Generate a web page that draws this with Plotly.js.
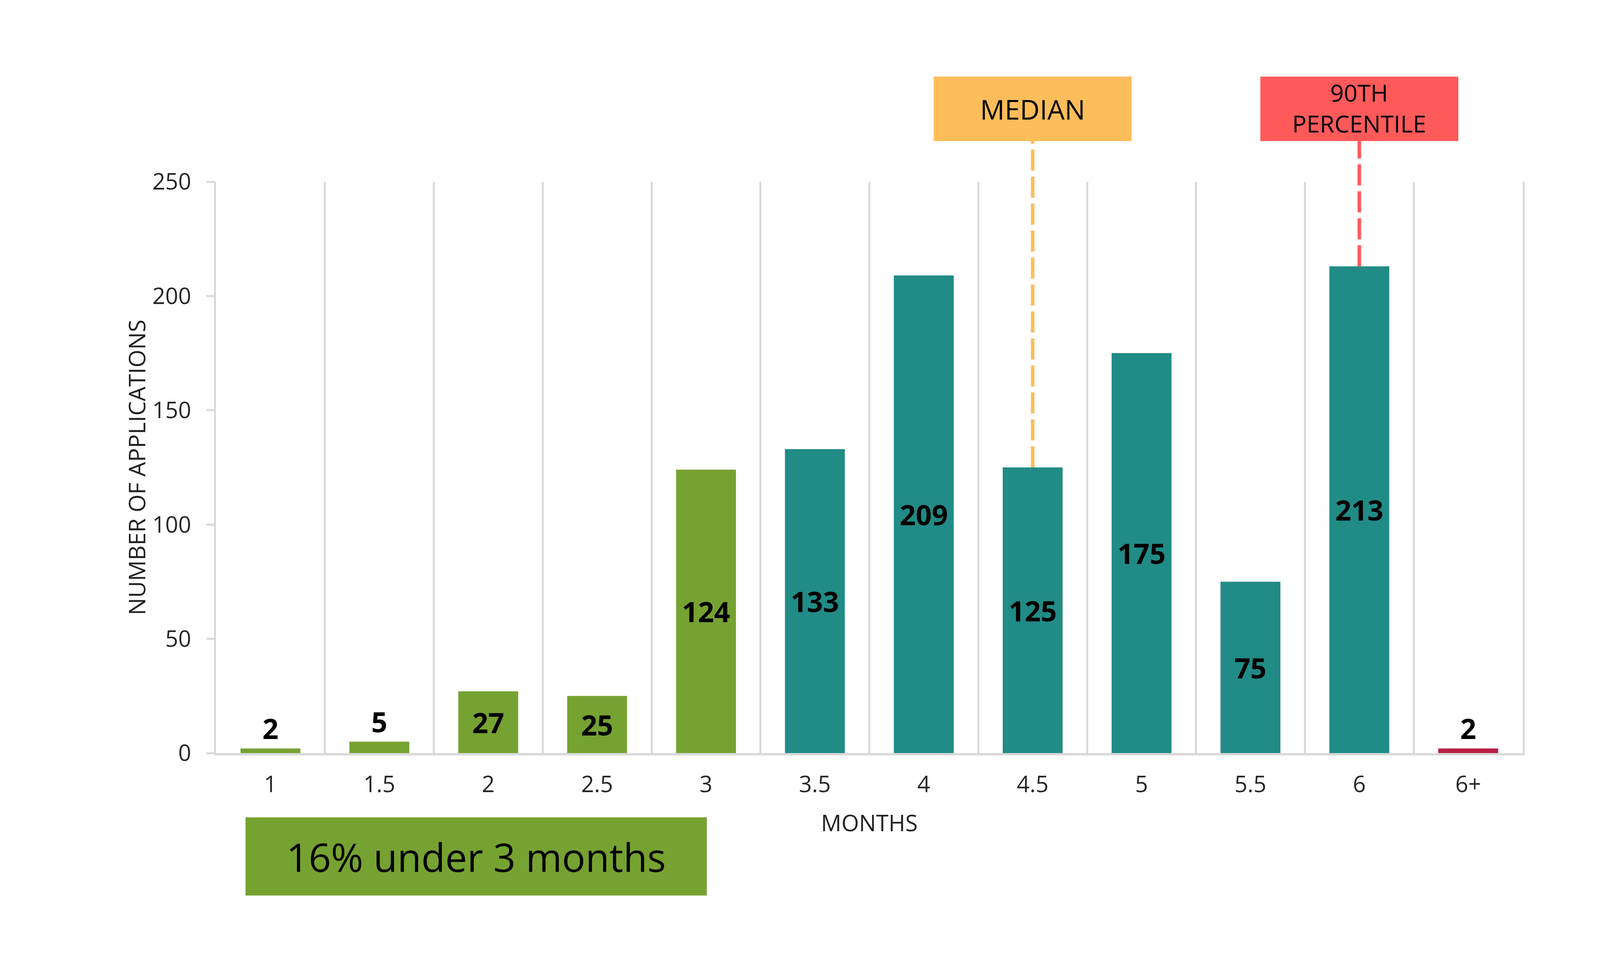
<!DOCTYPE html>
<html>
<head>
<meta charset="utf-8">
<script src="https://cdn.plot.ly/plotly-3.0.1.min.js"></script>
<style>html,body{margin:0;padding:0;background:#fff;overflow:hidden;}</style>
</head>
<body>
<div id="chart"></div>
<script>
// ---- data ----
const months = ['1', '1.5', '2', '2.5', '3', '3.5', '4', '4.5', '5', '5.5', '6', '6+'];
const applications = [2, 5, 27, 25, 124, 133, 209, 125, 175, 75, 213, 2];
const yTicks = [0, 50, 100, 150, 200, 250];
const medianMonth = '4.5';
const p90Month = '6';
const calloutText = '16% under 3 months';

// ---- styles ----
const GREEN = '#76A232', TEAL = '#218B86', CRIMSON = '#B81F45';
const ORANGE = '#FDBD5A', RED = '#FF5A5A', GRID = '#D9D9D9';
const FONT = 'Open Sans';

// fit the design (4500 x 2500) into the real viewport
const W = Math.min(4500, window.innerWidth || 4500);
const H = Math.min(2500, window.innerHeight || 2500);
const sx = W / 4500, sy = H / 2500;
document.getElementById('chart').style.width = W + 'px';
document.getElementById('chart').style.height = H + 'px';

const barColors = months.map(m => m === '6+' ? CRIMSON : (parseFloat(m) <= 3 ? GREEN : TEAL));
const textPos = applications.map(v => v < 20 ? 'outside' : 'inside');

const yMax = 250;
const boxBottom = 1.0711, boxTop = 1.1840, boxMid = (boxBottom + boxTop) / 2;
const iMed = months.indexOf(medianMonth);
const iP90 = months.indexOf(p90Month);
const halfBox = 0.909;

const bars = {
  type: 'bar',
  x: months,
  y: applications,
  marker: {color: barColors, line: {width: 0}},
  texttemplate: '%{y}',
  textposition: textPos,
  insidetextanchor: 'middle',
  textangle: 0,
  constraintext: 'none',
  cliponaxis: false,
  textfont: {family: FONT, size: 72, color: '#000', weight: 700},
  hoverinfo: 'skip',
  showlegend: false
};

const layout = {
  width: W, height: H,
  margin: {l: 607 * sx, r: 217 * sx, t: 465 * sy, b: 573 * sy, pad: 0},
  paper_bgcolor: '#fff', plot_bgcolor: '#fff',
  font: {family: FONT, color: '#222'},
  bargap: 0.45,
  showlegend: false,
  xaxis: {
    type: 'category',
    categoryorder: 'array', categoryarray: months,
    tickson: 'boundaries',
    showgrid: true, gridcolor: GRID, gridwidth: 5,
    ticks: '', ticklabelstandoff: 24,
    showline: true, linecolor: GRID, linewidth: 6,
    zeroline: false,
    tickfont: {family: FONT, size: 58, color: '#262626'},
    title: {text: 'MONTHS', font: {family: FONT, size: 58, color: '#222'}, standoff: 46},
    fixedrange: true
  },
  yaxis: {
    range: [0, yMax],
    tickvals: yTicks,
    ticks: 'outside', ticklen: 20, tickwidth: 5, tickcolor: GRID,
    ticklabelstandoff: 27,
    showgrid: false, zeroline: false,
    showline: true, linecolor: GRID, linewidth: 5, mirror: true,
    tickfont: {family: FONT, size: 58, color: '#262626'},
    title: {text: 'NUMBER OF APPLICATIONS', font: {family: FONT, size: 59, color: '#222'}, standoff: 0},
    fixedrange: true
  },
  shapes: [
    {type: 'line', xref: 'x', yref: 'paper', layer: 'above',
     x0: iMed, x1: iMed, y0: applications[iMed] / yMax, y1: boxBottom,
     line: {color: ORANGE, width: 9, dash: '54px,15px'}},
    {type: 'line', xref: 'x', yref: 'paper', layer: 'above',
     x0: iP90, x1: iP90, y0: applications[iP90] / yMax, y1: boxBottom,
     line: {color: RED, width: 9, dash: '54px,15px'}},
    {type: 'rect', xref: 'x', yref: 'paper', layer: 'above',
     x0: iMed - halfBox, x1: iMed + halfBox, y0: boxBottom, y1: boxTop,
     fillcolor: ORANGE, line: {width: 0}},
    {type: 'rect', xref: 'x', yref: 'paper', layer: 'above',
     x0: iP90 - halfBox, x1: iP90 + halfBox, y0: boxBottom, y1: boxTop,
     fillcolor: RED, line: {width: 0}}
  ],
  annotations: [
    {xref: 'x', yref: 'paper', x: iMed, y: boxMid, xanchor: 'center', yanchor: 'middle',
     text: 'MEDIAN', showarrow: false, font: {family: FONT, size: 70, color: '#000'}},
    {xref: 'x', yref: 'paper', x: iP90, y: boxMid + 0.002, xanchor: 'center', yanchor: 'middle',
     text: '90TH<br>PERCENTILE', showarrow: false, align: 'center',
     font: {family: FONT, size: 61, color: '#000'}},
    {xref: 'paper', yref: 'paper', x: 0.199, y: -0.1809, xanchor: 'center', yanchor: 'middle',
     text: calloutText, showarrow: false, bgcolor: GREEN, width: 1296 * sx, height: 199 * sy, borderpad: 0,
     align: 'center', valign: 'middle', font: {family: FONT, size: 100, color: '#000'}}
  ]
};

Plotly.newPlot('chart', [bars], layout, {staticPlot: true, displayModeBar: false});
</script>
</body>
</html>
